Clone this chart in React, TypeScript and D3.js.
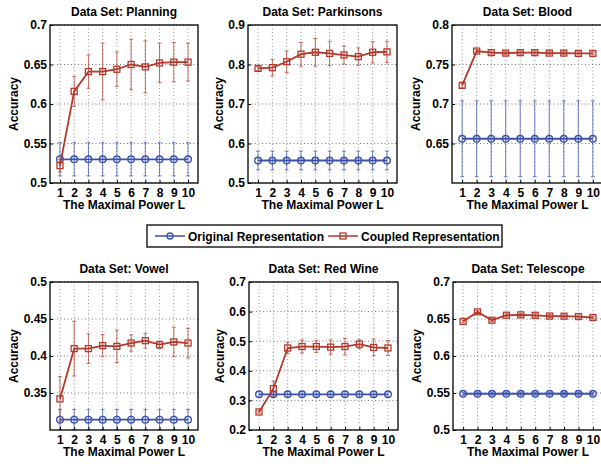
import { useEffect, useRef } from "react";
import * as d3 from "d3";

// maximal power L on the x axis
const powers = [1, 2, 3, 4, 5, 6, 7, 8, 9, 10];

const titles = ["Planning", "Parkinsons", "Blood", "Vowel", "Red Wine", "Telescope"];

// Planning
const planningOrig = [0.53, 0.53, 0.53, 0.53, 0.53, 0.53, 0.53, 0.53, 0.53, 0.53];
const planningOrigErr = [0.021, 0.021, 0.021, 0.021, 0.021, 0.021, 0.021, 0.021, 0.021, 0.021];
const planningCoupled = [0.522, 0.616, 0.641, 0.641, 0.644, 0.65, 0.647, 0.652, 0.653, 0.653];
const planningCoupledErr = [0.008, 0.019, 0.021, 0.036, 0.022, 0.032, 0.033, 0.025, 0.025, 0.024];

// Parkinsons
const parkinsonsOrig = [0.557, 0.557, 0.557, 0.557, 0.557, 0.557, 0.557, 0.557, 0.557, 0.557];
const parkinsonsOrigErr = [0.024, 0.024, 0.024, 0.024, 0.024, 0.024, 0.024, 0.024, 0.024, 0.024];
const parkinsonsCoupled = [0.79, 0.792, 0.807, 0.826, 0.831, 0.828, 0.824, 0.82, 0.831, 0.832];
const parkinsonsCoupledErr = [0.005, 0.021, 0.027, 0.03, 0.035, 0.031, 0.023, 0.022, 0.027, 0.027];

// Blood
const bloodOrig = [0.656, 0.656, 0.656, 0.656, 0.656, 0.656, 0.656, 0.656, 0.656, 0.656];
const bloodOrigErr = [0.048, 0.048, 0.048, 0.048, 0.048, 0.048, 0.048, 0.048, 0.048, 0.048];
const bloodCoupled = [0.7235, 0.767, 0.765, 0.7645, 0.765, 0.765, 0.7645, 0.7645, 0.764, 0.764];
const bloodCoupledErr = [0.003, 0.002, 0.002, 0.002, 0.002, 0.002, 0.002, 0.002, 0.002, 0.002];

// Vowel
const vowelOrig = [0.314, 0.314, 0.314, 0.314, 0.314, 0.314, 0.314, 0.314, 0.314, 0.314];
const vowelOrigErr = [0.0136, 0.0136, 0.0136, 0.0136, 0.0136, 0.0136, 0.0136, 0.0136, 0.0136, 0.0136];
const vowelCoupled = [0.342, 0.41, 0.41, 0.414, 0.413, 0.4175, 0.4207, 0.4153, 0.419, 0.4175];
const vowelCoupledErr = [0.03, 0.037, 0.02, 0.015, 0.022, 0.011, 0.01, 0.005, 0.02, 0.02];

// Red Wine
const wineOrig = [0.3205, 0.3205, 0.3205, 0.3205, 0.3205, 0.3205, 0.3205, 0.3205, 0.3205, 0.3205];
const wineOrigErr = [0.009, 0.009, 0.009, 0.009, 0.009, 0.009, 0.009, 0.009, 0.009, 0.009];
const wineCoupled = [0.261, 0.3395, 0.477, 0.482, 0.482, 0.48, 0.482, 0.49, 0.479, 0.477];
const wineCoupledErr = [0.004, 0.025, 0.019, 0.022, 0.02, 0.024, 0.028, 0.015, 0.028, 0.025];

// Telescope
const telescopeOrig = [0.549, 0.549, 0.549, 0.549, 0.549, 0.549, 0.549, 0.549, 0.549, 0.549];
const telescopeOrigErr = [0.002, 0.002, 0.002, 0.002, 0.002, 0.002, 0.002, 0.002, 0.002, 0.002];
const telescopeCoupled = [0.6467, 0.6596, 0.6484, 0.6551, 0.6556, 0.655, 0.654, 0.6538, 0.6533, 0.652];
const telescopeCoupledErr = [0.002, 0.002, 0.002, 0.002, 0.002, 0.002, 0.002, 0.002, 0.002, 0.002];

// y axis domains and tick labels
const yDomains = [[0.5, 0.7], [0.5, 0.9], [0.6, 0.8], [0.3, 0.5], [0.2, 0.7], [0.5, 0.7]];
const yTicks = [
  ["0.5", "0.55", "0.6", "0.65", "0.7"],
  ["0.5", "0.6", "0.7", "0.8", "0.9"],
  ["0.65", "0.7", "0.75", "0.8"],
  ["0.35", "0.4", "0.45", "0.5"],
  ["0.2", "0.3", "0.4", "0.5", "0.6", "0.7"],
  ["0.5", "0.55", "0.6", "0.65", "0.7"],
];

const legendLabels = ["Original Representation", "Coupled Representation"];

const BLUE = "#3a52ae";
const RED = "#b3392b";
const FONT = "'Liberation Sans', Arial, Helvetica, sans-serif";

const panels = [
  { orig: planningOrig, origErr: planningOrigErr, coupled: planningCoupled, coupledErr: planningCoupledErr },
  { orig: parkinsonsOrig, origErr: parkinsonsOrigErr, coupled: parkinsonsCoupled, coupledErr: parkinsonsCoupledErr },
  { orig: bloodOrig, origErr: bloodOrigErr, coupled: bloodCoupled, coupledErr: bloodCoupledErr },
  { orig: vowelOrig, origErr: vowelOrigErr, coupled: vowelCoupled, coupledErr: vowelCoupledErr },
  { orig: wineOrig, origErr: wineOrigErr, coupled: wineCoupled, coupledErr: wineCoupledErr },
  { orig: telescopeOrig, origErr: telescopeOrigErr, coupled: telescopeCoupled, coupledErr: telescopeCoupledErr },
];

// plot boxes in pixels
const boxes = [
  { left: 50, right: 198, top: 25, bottom: 183 },
  { left: 248, right: 397, top: 25, bottom: 183 },
  { left: 452, right: 603, top: 25, bottom: 183 },
  { left: 50, right: 198, top: 282, bottom: 430 },
  { left: 249, right: 398, top: 282, bottom: 430 },
  { left: 453, right: 603, top: 282, bottom: 430 },
];

const App = () => {
  const ref = useRef<SVGSVGElement | null>(null);

  useEffect(() => {
    const svg = d3.select(ref.current);
    svg.selectAll("*").remove();
    svg.append("rect").attr("width", 601).attr("height", 464).attr("fill", "white");

    panels.forEach((p, i) => {
      const b = boxes[i];
      const x = d3.scaleLinear().domain([0.3, 10.7]).range([b.left, b.right]);
      const y = d3.scaleLinear().domain(yDomains[i]).range([b.bottom, b.top]);
      const ticks = yTicks[i].map(Number);
      const g = svg.append("g");

      // dotted grid
      g.selectAll(".vgrid").data(powers).join("line")
        .attr("x1", d => x(d)).attr("x2", d => x(d))
        .attr("y1", b.top).attr("y2", b.bottom)
        .attr("stroke", "#777").attr("stroke-width", 0.8).attr("stroke-dasharray", "1,2.5");
      g.selectAll(".hgrid").data(ticks).join("line")
        .attr("x1", b.left).attr("x2", b.right)
        .attr("y1", d => y(d)).attr("y2", d => y(d))
        .attr("stroke", "#555").attr("stroke-width", 0.8).attr("stroke-dasharray", "1,2.5");

      const series = [
        { mean: p.orig, err: p.origErr, color: BLUE, marker: "circle" },
        { mean: p.coupled, err: p.coupledErr, color: RED, marker: "square" },
      ];

      series.forEach(s => {
        const pts = powers.map((L, k) => ({ L, m: s.mean[k], e: s.err[k] }));
        const eb = g.append("g").attr("stroke", s.color).attr("stroke-opacity", 0.72).attr("stroke-width", 1);
        eb.selectAll(".bar").data(pts).join("line")
          .attr("x1", d => x(d.L)).attr("x2", d => x(d.L))
          .attr("y1", d => y(d.m - d.e)).attr("y2", d => y(d.m + d.e));
        eb.selectAll(".capT").data(pts).join("line")
          .attr("x1", d => x(d.L) - 2).attr("x2", d => x(d.L) + 2)
          .attr("y1", d => y(d.m + d.e)).attr("y2", d => y(d.m + d.e));
        eb.selectAll(".capB").data(pts).join("line")
          .attr("x1", d => x(d.L) - 2).attr("x2", d => x(d.L) + 2)
          .attr("y1", d => y(d.m - d.e)).attr("y2", d => y(d.m - d.e));

        const line = d3.line<{ L: number; m: number }>().x(d => x(d.L)).y(d => y(d.m));
        g.append("path").datum(pts)
          .attr("fill", "none").attr("stroke", s.color).attr("stroke-width", 1.8)
          .attr("d", line);

        if (s.marker === "circle") {
          g.selectAll(".mk").data(pts).join("circle")
            .attr("cx", d => x(d.L)).attr("cy", d => y(d.m)).attr("r", 3.3)
            .attr("fill", "none").attr("stroke", s.color).attr("stroke-width", 1.4);
        } else {
          g.selectAll(".mk").data(pts).join("rect")
            .attr("x", d => x(d.L) - 3).attr("y", d => y(d.m) - 3)
            .attr("width", 6).attr("height", 6)
            .attr("fill", "none").attr("stroke", s.color).attr("stroke-width", 1.3);
        }
      });

      // frame
      g.append("rect")
        .attr("x", b.left).attr("y", b.top)
        .attr("width", b.right - b.left).attr("height", b.bottom - b.top)
        .attr("fill", "none").attr("stroke", "black").attr("stroke-width", 1.3);

      // axes
      const yAxis = g.append("g")
        .attr("transform", `translate(${b.left},0)`)
        .call(d3.axisLeft(y).tickValues(ticks).tickFormat((_, k) => yTicks[i][k]).tickSizeInner(-3).tickSizeOuter(0).tickPadding(3));
      const xAxis = g.append("g")
        .attr("transform", `translate(0,${b.bottom})`)
        .call(d3.axisBottom(x).tickValues(powers).tickFormat(d => String(d)).tickSizeInner(-3).tickSizeOuter(0).tickPadding(5));
      [yAxis, xAxis].forEach(a => {
        a.select(".domain").remove();
        a.selectAll("line").attr("stroke", "black");
        a.selectAll("text").attr("font-family", FONT).attr("font-size", 12).attr("font-weight", "bold").attr("fill", "black");
      });

      let labelLeft = b.left;
      yAxis.selectAll<SVGTextElement, unknown>("text").each(function () {
        const bb = this.getBBox();
        labelLeft = Math.min(labelLeft, b.left + bb.x);
      });

      const cy = (b.top + b.bottom) / 2;
      g.append("text")
        .attr("transform", `translate(${labelLeft - 10},${cy}) rotate(-90)`)
        .attr("text-anchor", "middle").attr("dy", "0.35em")
        .attr("font-family", FONT).attr("font-size", 12).attr("font-weight", "bold")
        .text("Accuracy");

      g.append("text")
        .attr("x", (b.left + b.right) / 2).attr("y", b.top - 9.5)
        .attr("text-anchor", "middle")
        .attr("font-family", FONT).attr("font-size", 12).attr("font-weight", "bold")
        .text(`Data Set: ${titles[i]}`);
      g.append("text")
        .attr("x", x(5.5)).attr("y", b.bottom + 26)
        .attr("text-anchor", "middle")
        .attr("font-family", FONT).attr("font-size", 12).attr("font-weight", "bold")
        .text("The Maximal Power L");
    });

    // legend
    const lg = svg.append("g");
    lg.append("rect").attr("x", 147).attr("y", 225).attr("width", 355).attr("height", 22)
      .attr("fill", "white").attr("stroke", "black").attr("stroke-width", 1.3);
    const items = [
      { label: legendLabels[0], color: BLUE, marker: "circle", x0: 155 },
      { label: legendLabels[1], color: RED, marker: "square", x0: 328 },
    ];
    items.forEach(it => {
      lg.append("line").attr("x1", it.x0).attr("x2", it.x0 + 30).attr("y1", 236).attr("y2", 236)
        .attr("stroke", it.color).attr("stroke-width", 1.5);
      if (it.marker === "circle") {
        lg.append("circle").attr("cx", it.x0 + 15).attr("cy", 236).attr("r", 3)
          .attr("fill", "none").attr("stroke", it.color).attr("stroke-width", 1.3);
      } else {
        lg.append("rect").attr("x", it.x0 + 12).attr("y", 233).attr("width", 6).attr("height", 6)
          .attr("fill", "none").attr("stroke", it.color).attr("stroke-width", 1.3);
      }
      lg.append("text").attr("x", it.x0 + 33).attr("y", 240.5)
        .attr("font-family", FONT).attr("font-size", 12).attr("font-weight", "bold")
        .text(it.label);
    });
  }, []);

  return (
    <div style={{ position: "absolute", left: 0, top: 0 }}>
      <svg ref={ref} width={601} height={464} style={{ display: "block" }} />
    </div>
  );
};

export default App;
